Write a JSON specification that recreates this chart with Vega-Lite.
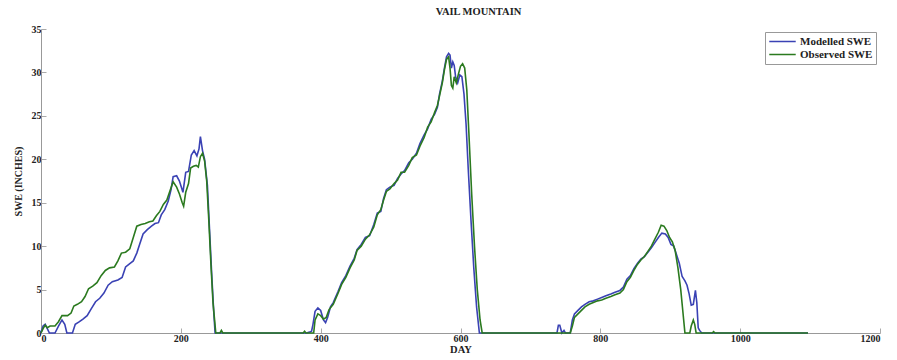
{
  "$schema": "https://vega.github.io/schema/vega-lite/v6.json",
  "width": 839,
  "height": 304,
  "autosize": "none",
  "padding": {"left": 41, "top": 29, "right": 17, "bottom": 27},
  "background": "white",
  "title": {"text": "VAIL MOUNTAIN", "font": "Liberation Serif", "fontSize": 10.5, "fontWeight": "bold", "color": "#222", "anchor": "middle", "dx": 18, "offset": 7},
  "datasets": {
    "m": [{"d":0,"v":0},{"d":3,"v":0.8},{"d":6,"v":1.0},{"d":9,"v":0.5},{"d":12,"v":0},{"d":20,"v":0},{"d":25,"v":0.8},{"d":30,"v":1.5},{"d":34,"v":1.0},{"d":37,"v":0},{"d":45,"v":0},{"d":49,"v":1.0},{"d":55,"v":1.3},{"d":60,"v":1.6},{"d":66,"v":2.0},{"d":72,"v":2.8},{"d":78,"v":3.6},{"d":84,"v":4.0},{"d":90,"v":4.6},{"d":96,"v":5.5},{"d":102,"v":5.9},{"d":110,"v":6.1},{"d":116,"v":6.4},{"d":121,"v":7.6},{"d":127,"v":8.0},{"d":132,"v":8.3},{"d":137,"v":9.2},{"d":141,"v":10.2},{"d":146,"v":11.4},{"d":152,"v":11.9},{"d":158,"v":12.3},{"d":163,"v":12.6},{"d":168,"v":12.7},{"d":172,"v":13.6},{"d":177,"v":14.2},{"d":182,"v":15.2},{"d":186,"v":16.5},{"d":189,"v":18.0},{"d":194,"v":18.1},{"d":198,"v":17.5},{"d":203,"v":16.2},{"d":207,"v":18.5},{"d":211,"v":18.6},{"d":215,"v":20.5},{"d":219,"v":21.0},{"d":223,"v":20.4},{"d":226,"v":21.2},{"d":228,"v":22.6},{"d":231,"v":21.0},{"d":234,"v":20.0},{"d":238,"v":17.0},{"d":241,"v":12.0},{"d":244,"v":7.0},{"d":247,"v":2.5},{"d":249,"v":0},{"d":380,"v":0},{"d":384,"v":0.1},{"d":387,"v":0.2},{"d":389,"v":1.0},{"d":392,"v":2.5},{"d":396,"v":2.9},{"d":400,"v":2.6},{"d":404,"v":1.5},{"d":407,"v":1.2},{"d":410,"v":1.8},{"d":414,"v":3.0},{"d":418,"v":3.5},{"d":425,"v":4.8},{"d":430,"v":5.8},{"d":436,"v":6.6},{"d":442,"v":7.7},{"d":448,"v":8.6},{"d":452,"v":9.6},{"d":458,"v":10.2},{"d":464,"v":11.0},{"d":470,"v":11.2},{"d":476,"v":12.5},{"d":481,"v":13.8},{"d":486,"v":14.0},{"d":490,"v":15.5},{"d":494,"v":16.5},{"d":499,"v":16.8},{"d":505,"v":17.0},{"d":510,"v":17.8},{"d":515,"v":18.3},{"d":520,"v":18.7},{"d":526,"v":19.6},{"d":531,"v":20.0},{"d":537,"v":20.7},{"d":542,"v":21.8},{"d":548,"v":22.8},{"d":553,"v":23.5},{"d":558,"v":24.6},{"d":563,"v":25.2},{"d":567,"v":26.0},{"d":570,"v":27.5},{"d":574,"v":29.0},{"d":577,"v":30.5},{"d":580,"v":31.8},{"d":583,"v":32.2},{"d":585,"v":32.0},{"d":587,"v":30.5},{"d":589,"v":31.2},{"d":591,"v":30.8},{"d":593,"v":29.5},{"d":596,"v":28.8},{"d":599,"v":29.7},{"d":602,"v":29.5},{"d":605,"v":27.5},{"d":608,"v":24.0},{"d":611,"v":19.0},{"d":615,"v":13.0},{"d":619,"v":7.5},{"d":623,"v":3.0},{"d":627,"v":0},{"d":738,"v":0},{"d":740,"v":0.9},{"d":742,"v":0.9},{"d":745,"v":0},{"d":748,"v":0.3},{"d":750,"v":0},{"d":757,"v":0},{"d":760,"v":1.5},{"d":763,"v":2.2},{"d":768,"v":2.6},{"d":773,"v":3.0},{"d":778,"v":3.3},{"d":784,"v":3.6},{"d":790,"v":3.7},{"d":796,"v":3.9},{"d":802,"v":4.1},{"d":808,"v":4.3},{"d":815,"v":4.5},{"d":821,"v":4.7},{"d":828,"v":4.9},{"d":833,"v":5.3},{"d":838,"v":6.2},{"d":843,"v":6.6},{"d":848,"v":7.4},{"d":853,"v":8.0},{"d":858,"v":8.5},{"d":863,"v":8.8},{"d":868,"v":9.3},{"d":873,"v":9.8},{"d":878,"v":10.4},{"d":883,"v":11.0},{"d":888,"v":11.5},{"d":893,"v":11.4},{"d":897,"v":11.0},{"d":901,"v":10.2},{"d":905,"v":10.0},{"d":909,"v":9.0},{"d":913,"v":8.0},{"d":917,"v":6.5},{"d":921,"v":6.0},{"d":924,"v":5.5},{"d":927,"v":4.5},{"d":930,"v":3.2},{"d":933,"v":3.3},{"d":936,"v":4.9},{"d":938,"v":3.5},{"d":940,"v":0.6},{"d":942,"v":0.3},{"d":945,"v":0},{"d":1097,"v":0}],
    "o": [{"d":0,"v":0},{"d":3,"v":0.5},{"d":6,"v":0.9},{"d":9,"v":0.6},{"d":13,"v":0.8},{"d":20,"v":0.8},{"d":25,"v":1.3},{"d":30,"v":2.0},{"d":38,"v":2.0},{"d":43,"v":2.3},{"d":47,"v":3.1},{"d":52,"v":3.3},{"d":58,"v":3.6},{"d":63,"v":4.2},{"d":68,"v":5.1},{"d":74,"v":5.4},{"d":80,"v":5.8},{"d":86,"v":6.6},{"d":92,"v":7.2},{"d":98,"v":7.5},{"d":105,"v":7.6},{"d":110,"v":8.3},{"d":115,"v":9.2},{"d":121,"v":9.3},{"d":127,"v":9.7},{"d":132,"v":11.0},{"d":137,"v":12.3},{"d":143,"v":12.5},{"d":149,"v":12.6},{"d":155,"v":12.8},{"d":160,"v":12.9},{"d":165,"v":13.5},{"d":170,"v":14.0},{"d":175,"v":14.8},{"d":180,"v":15.3},{"d":185,"v":16.5},{"d":189,"v":17.4},{"d":194,"v":16.8},{"d":198,"v":16.0},{"d":202,"v":15.0},{"d":204,"v":14.6},{"d":207,"v":16.2},{"d":211,"v":17.2},{"d":214,"v":19.0},{"d":218,"v":19.2},{"d":222,"v":19.3},{"d":225,"v":19.1},{"d":228,"v":20.3},{"d":231,"v":20.7},{"d":234,"v":19.8},{"d":237,"v":17.5},{"d":240,"v":13.0},{"d":243,"v":8.0},{"d":246,"v":3.5},{"d":250,"v":0},{"d":256,"v":0},{"d":258,"v":0.3},{"d":260,"v":0},{"d":375,"v":0},{"d":377,"v":0.2},{"d":379,"v":0},{"d":390,"v":0},{"d":392,"v":1.5},{"d":396,"v":2.2},{"d":400,"v":2.0},{"d":404,"v":1.6},{"d":408,"v":1.8},{"d":412,"v":2.7},{"d":418,"v":3.3},{"d":425,"v":4.6},{"d":430,"v":5.6},{"d":436,"v":6.4},{"d":442,"v":7.5},{"d":448,"v":8.4},{"d":452,"v":9.5},{"d":458,"v":10.0},{"d":464,"v":10.8},{"d":470,"v":11.3},{"d":476,"v":12.2},{"d":481,"v":13.6},{"d":486,"v":14.2},{"d":490,"v":15.3},{"d":494,"v":16.3},{"d":499,"v":16.6},{"d":505,"v":17.2},{"d":510,"v":17.6},{"d":515,"v":18.5},{"d":520,"v":18.5},{"d":526,"v":19.3},{"d":531,"v":20.2},{"d":537,"v":20.5},{"d":542,"v":21.5},{"d":548,"v":22.5},{"d":553,"v":23.7},{"d":558,"v":24.3},{"d":563,"v":25.4},{"d":567,"v":26.2},{"d":570,"v":27.3},{"d":574,"v":28.8},{"d":577,"v":30.3},{"d":580,"v":31.5},{"d":583,"v":31.8},{"d":585,"v":30.5},{"d":587,"v":28.5},{"d":589,"v":28.2},{"d":591,"v":29.5},{"d":594,"v":28.8},{"d":597,"v":29.8},{"d":600,"v":30.7},{"d":603,"v":31.0},{"d":606,"v":30.5},{"d":609,"v":28.0},{"d":612,"v":23.0},{"d":616,"v":16.0},{"d":620,"v":10.0},{"d":624,"v":5.0},{"d":628,"v":1.5},{"d":631,"v":0},{"d":757,"v":0},{"d":760,"v":0.8},{"d":763,"v":1.8},{"d":768,"v":2.2},{"d":773,"v":2.6},{"d":778,"v":3.0},{"d":784,"v":3.3},{"d":790,"v":3.5},{"d":796,"v":3.7},{"d":802,"v":3.8},{"d":808,"v":4.0},{"d":815,"v":4.2},{"d":821,"v":4.4},{"d":828,"v":4.6},{"d":833,"v":5.0},{"d":838,"v":5.9},{"d":843,"v":6.4},{"d":848,"v":7.2},{"d":853,"v":7.9},{"d":858,"v":8.4},{"d":863,"v":8.8},{"d":868,"v":9.4},{"d":873,"v":10.0},{"d":878,"v":10.8},{"d":883,"v":11.6},{"d":887,"v":12.4},{"d":891,"v":12.3},{"d":895,"v":11.8},{"d":899,"v":11.0},{"d":903,"v":10.5},{"d":907,"v":9.5},{"d":911,"v":7.5},{"d":915,"v":5.0},{"d":918,"v":2.5},{"d":921,"v":0},{"d":928,"v":0},{"d":930,"v":0.8},{"d":933,"v":1.5},{"d":935,"v":1.0},{"d":937,"v":0},{"d":960,"v":0},{"d":962,"v":0.15},{"d":964,"v":0},{"d":1097,"v":0}]
  },
  "layer": [
    {
      "data": {"name": "m"},
      "mark": {"type": "line", "strokeWidth": 1.6, "interpolate": "linear"},
      "encoding": {
        "x": {"field": "d", "type": "quantitative"},
        "y": {"field": "v", "type": "quantitative"},
        "color": {"datum": "Modelled SWE"}
      }
    },
    {
      "data": {"name": "o"},
      "mark": {"type": "line", "strokeWidth": 1.6, "interpolate": "linear"},
      "encoding": {
        "x": {"field": "d", "type": "quantitative", "scale": {"domain": [0, 1200], "nice": false}, "axis": {"values": [0,200,400,600,800,1000,1200], "format": "d", "title": "DAY", "grid": false, "tickSize": -5, "labelPadding": 5, "titlePadding": 1, "domainColor": "#999", "tickColor": "#aaa", "labelFont": "Liberation Serif", "labelFontWeight": "bold", "labelFontSize": 10, "labelColor": "#222", "titleFont": "Liberation Serif", "titleFontSize": 10.5, "titleFontWeight": "bold", "titleColor": "#222"}},
        "y": {"field": "v", "type": "quantitative", "scale": {"domain": [0, 35], "nice": false}, "axis": {"values": [0,5,10,15,20,25,30,35], "title": "SWE (INCHES)", "grid": false, "tickSize": -5, "labelPadding": 5, "titlePadding": 8, "domainColor": "#999", "tickColor": "#aaa", "labelFont": "Liberation Serif", "labelFontWeight": "bold", "labelFontSize": 10, "labelColor": "#222", "titleFont": "Liberation Serif", "titleFontSize": 10, "titleFontWeight": "bold", "titleColor": "#222"}},
        "color": {"datum": "Observed SWE", "type": "nominal", "scale": {"domain": ["Modelled SWE", "Observed SWE"], "range": ["#3a42b4", "#2b7a1f"]}, "legend": {"title": null, "orient": "none", "legendX": 724, "legendY": 3, "symbolType": "stroke", "symbolSize": 700, "symbolStrokeWidth": 1.6, "strokeColor": "#999", "padding": 3, "rowPadding": 0, "clipHeight": 13, "labelOffset": 3, "labelFont": "Liberation Serif", "labelFontWeight": "bold", "labelFontSize": 11, "labelColor": "#222", "fillColor": "white"}}
      }
    }
  ],
  "config": {"view": {"stroke": null}}
}
